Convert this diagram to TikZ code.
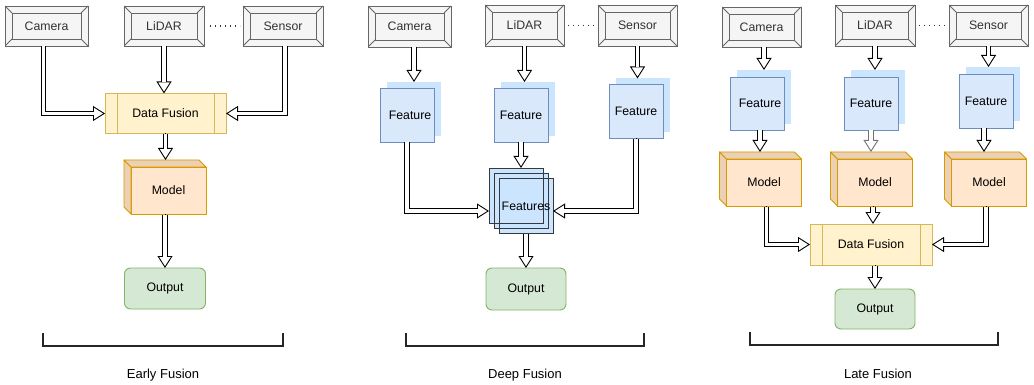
\documentclass[tikz,border=0pt]{standalone}
\usepackage{fontspec}
\setmainfont{Liberation Sans}
\usetikzlibrary{arrows.meta,calc}

\definecolor{bevfill}{HTML}{F5F5F5}
\definecolor{bevline}{HTML}{666666}
\definecolor{bevtext}{HTML}{333333}
\definecolor{dffill}{HTML}{FFF2CC}
\definecolor{dfline}{HTML}{D6B656}
\definecolor{modfill}{HTML}{FFE6CC}
\definecolor{modline}{HTML}{D79B00}
\definecolor{modside}{HTML}{EBD0B4}
\definecolor{outfill}{HTML}{D5E8D4}
\definecolor{outline}{HTML}{82B366}
\definecolor{featfill}{HTML}{DAE8FC}
\definecolor{featline}{HTML}{6C8EBF}
\definecolor{featback}{HTML}{CCE5FF}
\definecolor{fsline}{HTML}{36393D}

\tikzset{
  every node/.style={font=\fontsize{12.3pt}{14pt}\selectfont, inner sep=0pt, outer sep=0pt},
  bevel/.style={draw=bevline, fill=bevfill, line width=0.9pt, text=bevtext, minimum height=40pt,
    path picture={
      \draw[bevline, line width=0.9pt]
        ([shift={(7pt,7pt)}]path picture bounding box.south west) rectangle
        ([shift={(-7pt,-7pt)}]path picture bounding box.north east);
      \draw[bevline, line width=0.9pt]
        (path picture bounding box.south west) -- ++(7pt,7pt)
        (path picture bounding box.north west) -- ++(7pt,-7pt)
        (path picture bounding box.south east) -- ++(-7pt,7pt)
        (path picture bounding box.north east) -- ++(-7pt,-7pt);
    }},
  fusion/.style={draw=dfline, fill=dffill, line width=0.9pt, minimum width=121pt, minimum height=40pt,
    path picture={
      \draw[dfline, line width=0.9pt]
        ([xshift=12pt]path picture bounding box.north west) -- ([xshift=12pt]path picture bounding box.south west)
        ([xshift=-12pt]path picture bounding box.north east) -- ([xshift=-12pt]path picture bounding box.south east);
    }},
  cubefront/.style={draw=modline, fill=modfill, line width=0.9pt, minimum width=75pt, minimum height=47pt},
  cubeside/.style={draw=modline, fill=modside, line width=0.9pt, line join=round},
  outbox/.style={draw=outline, fill=outfill, line width=0.9pt, rounded corners=6pt, minimum width=81pt, minimum height=41pt},
  feat/.style={draw=featline, fill=featfill, line width=0.9pt, minimum width=54pt, minimum height=54pt},
  featbk/.style={fill=featback, minimum width=54pt, minimum height=54pt},
  fsbox/.style={fill=featback, minimum width=54pt, minimum height=55pt},
  fsedge/.style={draw=fsline, line width=0.9pt},
  flex/.style={line width=0.9pt, draw=#1,
    -{Triangle[length=12pt,width=15pt,fill=white,line width=0.9pt]},
    postaction={draw=#1, -, double=white, double distance=3.6pt, line width=0.9pt,
      shorten >=11pt, shorten <=0.5pt}},
  flex/.default=black,
  dots/.style={draw=bevtext, line width=1.1pt, dash pattern=on 1.1pt off 3.9pt},
  bracket/.style={draw=black!85, line width=1.2pt},
  caption/.style={font=\fontsize{13pt}{15pt}\selectfont}
}

% box with a shaded top and left face, drawn as a small cube
\newcommand\modelcube[3]{%
  \node[cubefront] (#1) at (#2) {#3};
  \filldraw[cubeside] (#1.north west) -- ++(-7pt,7pt) -- ([shift={(-7pt,7pt)}]#1.south west) -- (#1.south west) -- cycle;
  \filldraw[cubeside] (#1.north west) -- ++(-7pt,7pt) -- ([shift={(-7pt,7pt)}]#1.north east) -- (#1.north east) -- cycle;
}

\begin{document}
\begin{tikzpicture}[x=1pt,y=-1pt]
\useasboundingbox[fill=white] (0,0) rectangle (1034,385);

% ---------------- Early fusion ----------------
\node[bevel, minimum width=83pt] (cam1) at (46.5,26) {Camera};
\node[bevel, minimum width=80pt] (lid1) at (164,26) {LiDAR};
\node[bevel, minimum width=80pt] (sen1) at (283,26) {Sensor};
\draw[dots, shorten <=6pt, shorten >=3pt] (lid1.east) -- (sen1.west);
\node[fusion] (df1) at (165.5,113.5) {\raisebox{-3pt}{Data Fusion}};
\modelcube{mod1}{168.5,190.5}{Model}
\node[outbox] (out1) at (165,288.5) {Output};

\draw[flex] ([xshift=-3pt]cam1.south) |- (df1.west);
\draw[flex] (lid1.south) -- (lid1.south |- df1.north);
\draw[flex] ([xshift=2pt]sen1.south) |- (df1.east);
\draw[flex] (df1.south) -- ([yshift=7pt]df1.south |- mod1.north);
\draw[flex] (out1.north |- mod1.south) -- (out1.north);

\draw[bracket] (43,333) -- (43,346) -- (283,346) -- (283,333);
\node[caption] (cap1) at (163,375) {Early Fusion};

% ---------------- Deep fusion ----------------
\node[bevel, minimum width=83pt, minimum height=41pt] (cam2) at (409.5,26.5) {\raisebox{-2.5pt}{Camera}};
\node[bevel, minimum width=79pt, minimum height=41pt] (lid2) at (524.5,25.5) {LiDAR};
\node[bevel, minimum width=79pt, minimum height=41pt] (sen2) at (637.5,25.5) {Sensor};
\draw[dots, shorten <=4pt, shorten >=3pt] (lid2.east) -- (sen2.west);

\node[featbk] (feat2aB) at (414,109) {};
\node[feat] (feat2a) at (407,115) {\hspace*{6pt}Feature};
\node[featbk] (feat2bB) at (528,109) {};
\node[feat] (feat2b) at (521,115) {Feature};
\node[featbk] (feat2cB) at (643,105.5) {};
\node[feat] (feat2c) at (636,111.5) {Feature};

\node[fsbox] (fsA) at (516,195.5) {};
\node[fsbox] (fsB) at (521,201) {};
\node[fsbox] (fsC) at (526,206) {};
\draw[fsedge] (fsA.south west) rectangle (fsA.north east);
\draw[fsedge] (fsB.south west) rectangle (fsB.north east);
\draw[fsedge] (fsC.south west) rectangle (fsC.north east);
\node (fstext) at (fsC.center) {Features};
\coordinate (j2) at (470,211);

\node[outbox, minimum width=80pt, minimum height=42pt] (out2) at (526,289) {Output};

\draw[flex] (cam2.south -| feat2aB.north) -- (feat2aB.north);
\draw[flex] (lid2.south) -- (lid2.south |- feat2bB.north);
\draw[flex] (sen2.south) -- (sen2.south |- feat2cB.north);
\draw[flex] (feat2a.south) |- (j2 -| fsA.west);
\draw[flex] (feat2b.south) -- (feat2b.south |- fsA.north);
\draw[flex] (feat2c.south) |- (j2 -| fsC.east);
\draw[flex] (fsC.south) -- (out2.north);

\draw[bracket] (406,333) -- (406,346) -- (644,346) -- (644,333);
\node[caption] (cap2) at (525,375) {Deep Fusion};

% ---------------- Late fusion ----------------
\node[bevel, minimum width=79pt] (cam3) at (761.5,27) {\raisebox{-2.5pt}{Camera}};
\node[bevel, minimum width=80pt, minimum height=41pt] (lid3) at (875,25.5) {LiDAR};
\node[bevel, minimum width=79pt, minimum height=41pt] (sen3) at (988.5,25.5) {Sensor};
\draw[dots, shorten <=4pt, shorten >=3pt] (lid3.east) -- (sen3.west);

\node[featbk] (feat3aB) at (764,97) {};
\node[feat, minimum height=53pt] (feat3a) at (757,103.5) {\hspace*{6pt}Feature};
\node[featbk] (feat3bB) at (878,97) {};
\node[feat, minimum height=53pt] (feat3b) at (871,103.5) {Feature};
\node[featbk] (feat3cB) at (993,94) {};
\node[feat] (feat3c) at (986,101) {Feature};

\modelcube{mod3a}{764,182.5}{Model}
\modelcube{mod3b}{875,182.5}{Model}
\modelcube{mod3c}{989,182.5}{Model}

\node[fusion, minimum width=122pt, minimum height=41pt] (df3) at (871,244.5) {\raisebox{-3pt}{Data Fusion}};
\node[outbox, minimum width=80pt, minimum height=40pt] (out3) at (875,309) {Output};

\draw[flex] (cam3.south -| feat3aB.north) -- (feat3aB.north);
\draw[flex] (lid3.south) -- (lid3.south |- feat3bB.north);
\draw[flex] (sen3.south) -- (sen3.south |- feat3cB.north);
\draw[flex] ([xshift=3pt]feat3a.south) -- ([xshift=3pt,yshift=7pt]feat3a.south |- mod3a.north);
\draw[flex=black!55] (feat3b.south) -- ([yshift=7pt]feat3b.south |- mod3b.north);
\draw[flex] ([xshift=-2pt]feat3c.south) -- ([xshift=-2pt,yshift=7pt]feat3c.south |- mod3c.north);
\draw[flex] ([xshift=2.5pt]mod3a.south) |- (df3.west);
\draw[flex] ([xshift=-2pt]mod3b.south) -- ([xshift=-2pt]mod3b.south |- df3.north);
\draw[flex] ([xshift=-3pt]mod3c.south) |- (df3.east);
\draw[flex] (out3.north |- df3.south) -- (out3.north);

\draw[bracket] (750,332) -- (750,345) -- (998,345) -- (998,332);
\node[caption] (cap3) at (878,374) {Late Fusion};
\end{tikzpicture}
\end{document}
